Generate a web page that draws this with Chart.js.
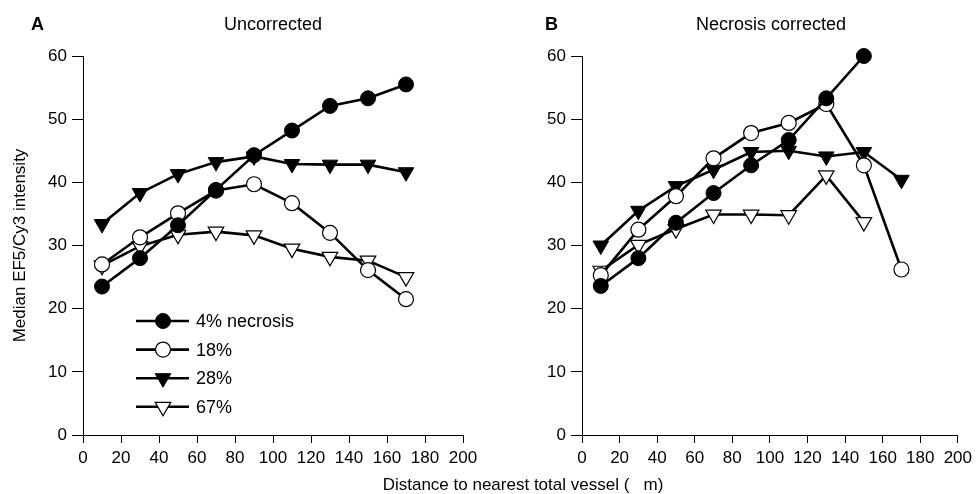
<!DOCTYPE html>
<html>
<head>
<meta charset="utf-8">
<script src="https://cdn.jsdelivr.net/npm/chart.js@4.4.0/dist/chart.umd.min.js"></script>
<style>
  body { margin: 0; background: #fff; width: 977px; height: 494px; overflow: hidden; position: relative; font-family: "Liberation Sans", Arial, sans-serif; }
  canvas { position: absolute; top: 0; }
  .lbl { position: absolute; color: #000; white-space: pre; line-height: 1; }
</style>
</head>
<body>
<canvas id="chartA" width="490" height="494" style="left:0"></canvas>
<canvas id="chartB" width="487" height="494" style="left:490px"></canvas>
<div class="lbl" style="left:31px; top:15px; font-size:18px; font-weight:bold">A</div>
<div class="lbl" style="left:545px; top:15px; font-size:18px; font-weight:bold">B</div>
<div class="lbl" style="left:173px; width:200px; text-align:center; top:15px; font-size:18px">Uncorrected</div>
<div class="lbl" style="left:671px; width:200px; text-align:center; top:15px; font-size:18px">Necrosis corrected</div>
<div class="lbl" style="left:323px; width:400px; text-align:center; top:476px; font-size:17px">Distance to nearest total vessel (   m)</div>
<script>
// distance to nearest vessel (x), median EF5/Cy3 intensity (y)
const distances = [10, 30, 50, 70, 90, 110, 130, 150, 170];
const seriesLabels = ['4% necrosis', '18%', '28%', '67%'];

// panel A: uncorrected
const uncorr4  = [23.5, 28.0, 33.2, 38.8, 44.3, 48.2, 52.1, 53.3, 55.5];
const uncorr18 = [27.0, 31.3, 35.1, 38.7, 39.7, 36.7, 32.0, 26.1, 21.5];
const uncorr28 = [33.4, 38.3, 41.3, 43.2, 44.1, 42.9, 42.8, 42.8, 41.6];
const uncorr67 = [26.8, 29.9, 31.7, 32.2, 31.6, 29.5, 28.2, 27.6, 25.0];

// panel B: necrosis corrected
const corr4  = [23.6, 28.0, 33.6, 38.3, 42.7, 46.7, 53.3, 60.0];
const corr18 = [25.3, 32.5, 37.8, 43.8, 47.8, 49.4, 52.4, 42.7, 26.2];
const corr28 = [30.0, 35.5, 39.4, 42.0, 44.8, 45.0, 44.1, 44.8, 40.4];
const corr67 = [26.0, 30.1, 32.6, 34.9, 34.9, 34.8, 41.1, 33.7];

const yTicks = [0, 10, 20, 30, 40, 50, 60];
const xTicks = [0, 20, 40, 60, 80, 100, 120, 140, 160, 180, 200];

const FONT = '"Liberation Sans", Arial, sans-serif';

// marker look for each series, in legend order
const markers = [
  { pointStyle: 'circle',   rotation: 0,   radius: 7.5, fill: '#000', borderWidth: 1 },
  { pointStyle: 'circle',   rotation: 0,   radius: 7.5, fill: '#fff', borderWidth: 1.2 },
  { pointStyle: 'triangle', rotation: 180, radius: 9,   fill: '#000', borderWidth: 1 },
  { pointStyle: 'triangle', rotation: 180, radius: 9,   fill: '#fff', borderWidth: 1.2 }
];

function toPoints(values) {
  return values.map((v, i) => ({ x: distances[i], y: v }));
}

function makeDatasets(list) {
  return list.map((values, i) => {
    const m = markers[i];
    return {
      label: seriesLabels[i],
      data: toPoints(values),
      borderColor: '#000',
      borderWidth: 2.6,
      backgroundColor: m.fill,
      pointStyle: m.pointStyle,
      pointRotation: m.rotation,
      pointRadius: m.radius,
      pointHoverRadius: m.radius,
      pointBackgroundColor: m.fill,
      pointBorderColor: '#000',
      pointBorderWidth: m.borderWidth,
      tension: 0,
      clip: false
    };
  });
}

// legend with line + marker, drawn inside panel A
const lineLegend = {
  id: 'lineLegend',
  afterDatasetsDraw(chart) {
    const ctx = chart.ctx;
    ctx.save();
    seriesLabels.forEach((label, i) => {
      const y = 321 + i * 28.6;
      const m = markers[i];
      ctx.strokeStyle = '#000';
      ctx.lineWidth = 2.6;
      ctx.beginPath();
      ctx.moveTo(136, y);
      ctx.lineTo(189, y);
      ctx.stroke();
      ctx.fillStyle = m.fill;
      ctx.lineWidth = m.borderWidth;
      Chart.helpers.drawPoint(ctx, { pointStyle: m.pointStyle, rotation: m.rotation, radius: m.radius, borderWidth: m.borderWidth }, 163, y);
      ctx.fillStyle = '#000';
      ctx.font = '18px ' + FONT;
      ctx.textBaseline = 'middle';
      ctx.textAlign = 'left';
      ctx.fillText(label, 196, y + 1);
    });
    ctx.restore();
  }
};

function makeChart(id, list, yWidth, rightPad, yTitle, plugins) {
  return new Chart(document.getElementById(id), {
    type: 'line',
    data: { datasets: makeDatasets(list) },
    plugins: plugins,
    options: {
      responsive: false,
      animation: false,
      events: [],
      layout: { padding: { top: 56, right: rightPad, bottom: 0, left: 0 } },
      plugins: { legend: { display: false }, tooltip: { enabled: false } },
      scales: {
        x: {
          type: 'linear',
          min: 0,
          max: 200,
          afterBuildTicks: s => { s.ticks = xTicks.map(v => ({ value: v })); },
          afterFit: s => { s.height = 59; },
          grid: { drawOnChartArea: false, drawTicks: true, tickLength: 8, color: '#000', lineWidth: 1 },
          border: { color: '#000', width: 1 },
          ticks: { color: '#000', padding: 5, maxRotation: 0, font: { family: FONT, size: 17 } }
        },
        y: {
          min: 0,
          max: 60,
          afterBuildTicks: s => { s.ticks = yTicks.map(v => ({ value: v })); },
          afterFit: s => { s.width = yWidth; },
          grid: { drawOnChartArea: false, drawTicks: true, tickLength: 11, color: '#000', lineWidth: 1 },
          border: { color: '#000', width: 1 },
          ticks: { color: '#000', padding: 5, font: { family: FONT, size: 17 } },
          title: {
            display: !!yTitle,
            text: yTitle,
            color: '#000',
            padding: { top: 10, bottom: 0 },
            font: { family: FONT, size: 17 }
          }
        }
      }
    }
  });
}

makeChart('chartA', [uncorr4, uncorr18, uncorr28, uncorr67], 83, 27, 'Median EF5/Cy3 intensity', [lineLegend]);
makeChart('chartB', [corr4, corr18, corr28, corr67], 92, 16, '', []);
</script>
</body>
</html>
